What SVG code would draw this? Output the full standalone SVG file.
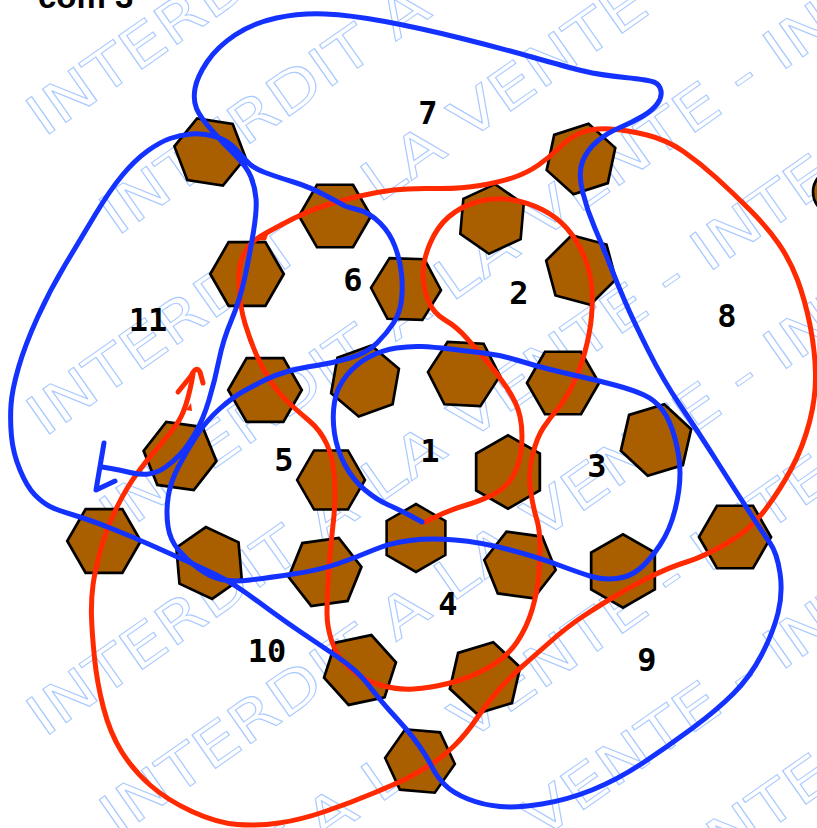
<svg xmlns="http://www.w3.org/2000/svg" xmlns:xlink="http://www.w3.org/1999/xlink" width="817" height="828" viewBox="0 0 817 828">
<style>
.wm{font-family:"DejaVu Sans",sans-serif;font-size:56px;fill:none;stroke:#a9c9ff;stroke-width:1}
.hx{fill:#a95f00;stroke:#000;stroke-width:2.6;stroke-linejoin:miter}
.lb{font-family:"DejaVu Sans Mono",monospace;font-weight:bold;font-size:32px;fill:#000;text-anchor:middle}
.red{fill:none;stroke:#ff2a00;stroke-width:5;stroke-linecap:round;stroke-linejoin:round}
.blue{fill:none;stroke:#1432ff;stroke-width:5;stroke-linecap:round;stroke-linejoin:round}
</style>
<defs>
<polygon id="hex" points="35,0 17.5,30.31 -17.5,30.31 -35,0 -17.5,-30.31 17.5,-30.31"/>
</defs>
<rect width="817" height="828" fill="#fff"/>
<g id="watermark" transform="rotate(-35)">
<text class="wm" transform="translate(-43,138) scale(1.22,1)">INTERDIT A LA VENTE - INTERDIT A LA VENTE - </text>
<text class="wm" transform="translate(-40,261) scale(1.22,1)">INTERDIT A LA VENTE - INTERDIT A LA VENTE - </text>
<text class="wm" transform="translate(-215,384) scale(1.22,1)">INTERDIT A LA VENTE - INTERDIT A LA VENTE - </text>
<text class="wm" transform="translate(-212,507) scale(1.22,1)">INTERDIT A LA VENTE - INTERDIT A LA VENTE - </text>
<text class="wm" transform="translate(-387,630) scale(1.22,1)">INTERDIT A LA VENTE - INTERDIT A LA VENTE - </text>
<text class="wm" transform="translate(-384,753) scale(1.22,1)">INTERDIT A LA VENTE - INTERDIT A LA VENTE - </text>
<text class="wm" transform="translate(-559,876) scale(1.22,1)">INTERDIT A LA VENTE - INTERDIT A LA VENTE - </text>
<text class="wm" transform="translate(-556,998) scale(1.22,1)">INTERDIT A LA VENTE - INTERDIT A LA VENTE - </text>
<text class="wm" transform="translate(-731,1121) scale(1.22,1)">INTERDIT A LA VENTE - INTERDIT A LA VENTE - </text>
</g>
<text x="38" y="8" font-family="Liberation Sans, sans-serif" font-weight="bold" font-size="33" fill="#000">com 3</text>
<g id="hexes">
<g id="h1"><use xlink:href="#hex" class="hx" transform="translate(210,152) rotate(9) scale(1.03)"/></g>
<g id="h2"><use xlink:href="#hex" class="hx" transform="translate(335,216) scale(1.03)"/></g>
<g id="h3"><use xlink:href="#hex" class="hx" transform="translate(247,274) scale(1.05)"/></g>
<g id="h4"><use xlink:href="#hex" class="hx" transform="translate(406,289) rotate(2)"/></g>
<g id="h5"><use xlink:href="#hex" class="hx" transform="translate(492,219) rotate(-25)"/></g>
<g id="h6"><use xlink:href="#hex" class="hx" transform="translate(581,159) rotate(-18) scale(1.03)"/></g>
<g id="h7"><use xlink:href="#hex" class="hx" transform="translate(581,270) rotate(15) scale(1.03)"/></g>
<g id="h8"><use xlink:href="#hex" class="hx" transform="translate(365,381) rotate(-20) scale(1.03)"/></g>
<g id="h9"><use xlink:href="#hex" class="hx" transform="translate(464,374) rotate(3) scale(1.03)"/></g>
<g id="h10"><use xlink:href="#hex" class="hx" transform="translate(563,383) scale(1.03)"/></g>
<g id="h11"><use xlink:href="#hex" class="hx" transform="translate(265,390) scale(1.05)"/></g>
<g id="h12"><use xlink:href="#hex" class="hx" transform="translate(656,440) rotate(-17) scale(1.05)"/></g>
<g id="h13"><use xlink:href="#hex" class="hx" transform="translate(508,472) rotate(30) scale(1.05)"/></g>
<g id="h14"><use xlink:href="#hex" class="hx" transform="translate(180,456) rotate(8) scale(1.05)"/></g>
<g id="h15"><use xlink:href="#hex" class="hx" transform="translate(331,480) scale(0.97)"/></g>
<g id="h16"><use xlink:href="#hex" class="hx" transform="translate(416,538) rotate(30) scale(0.97)"/></g>
<g id="h17"><use xlink:href="#hex" class="hx" transform="translate(520,565) rotate(8) scale(1.03)"/></g>
<g id="h18"><use xlink:href="#hex" class="hx" transform="translate(623,571) rotate(30) scale(1.05)"/></g>
<g id="h19"><use xlink:href="#hex" class="hx" transform="translate(735,537) scale(1.03)"/></g>
<g id="h20"><use xlink:href="#hex" class="hx" transform="translate(104,541) scale(1.05)"/></g>
<g id="h21"><use xlink:href="#hex" class="hx" transform="translate(209,563) rotate(25) scale(1.03)"/></g>
<g id="h22"><use xlink:href="#hex" class="hx" transform="translate(325,572) rotate(-8) scale(1.05)"/></g>
<g id="h23"><use xlink:href="#hex" class="hx" transform="translate(360,670) rotate(-12) scale(1.05)"/></g>
<g id="h24"><use xlink:href="#hex" class="hx" transform="translate(485,678) rotate(-17) scale(1.05)"/></g>
<g id="h25"><use xlink:href="#hex" class="hx" transform="translate(420,761) rotate(5)"/></g>
<g id="h26"><circle cx="836" cy="192" r="23" class="hx"/></g>
</g>
<g id="connectors">
<path id="red-loop" class="red" d="M425,522 L437.5,516 Q450,510 466.5,505 Q483,500 495,493.5 Q507,487 513.5,475 Q520,463 521.5,446.5 Q523,430 520,416.5 Q517,403 507,388 Q497,373 487,361.5 Q477,350 467,338.5 Q457,327 445,320 Q433,313 428,300 Q423,287 423,273.5 Q423,260 430,243.5 Q437,227 448.5,217 Q460,207 476.5,202 Q493,197 510,199.5 Q527,202 542,209.5 Q557,217 567,228.5 Q577,240 583.5,255 Q590,270 591.5,285 Q593,300 591.5,316.5 Q590,333 585,351.5 Q580,370 572.5,385 Q565,400 557.5,409 Q550,418 543.5,427.5 Q537,437 532.5,455 Q528,473 530.5,490 Q533,507 536.5,518.5 Q540,530 540,546.5 Q540,563 538.5,578 Q537,593 532,610 Q527,627 517,642 Q507,657 488.5,667.5 Q470,678 450,683 Q430,688 413.5,689 Q397,690 380,685 Q363,680 350,668.5 Q337,657 332,642 Q327,627 327,613.5 Q327,600 328.5,575 Q330,550 333,525 Q336,500 334.5,478.5 Q333,457 326.5,443.5 Q320,430 310,421.5 Q300,413 290,404 Q280,395 271.5,382.5 Q263,370 256.5,355 Q250,340 245,323.5 Q240,307 239,287 Q238,267 242.5,257 Q247,247 252,242.5 Q257,238 267,232.5 Q277,227 293.5,218.5 Q310,210 326.5,205 Q343,200 360,196 Q377,192 393.5,190 Q410,188 435,188.5 Q460,189 480,185.5 Q500,182 513.5,177.5 Q527,173 538.5,165 Q550,157 560,147 Q570,137 581.5,132.5 Q593,128 610,129 Q627,130 647,135 Q667,140 683.5,151.5 Q700,163 716.5,178 Q733,193 750,210 Q767,227 778.5,243.5 Q790,260 797.5,280 Q805,300 810,325 Q815,350 815.5,373.5 Q816,397 809.5,422 Q803,447 791.5,468.5 Q780,490 765,510 Q750,530 726.5,543.5 Q703,557 686.5,562 Q670,567 650,577 Q630,587 613.5,597 Q597,607 582,617 Q567,627 550,642 Q533,657 521.5,667 Q510,677 498.5,690 Q487,703 477,718 Q467,733 455,745 Q443,757 430,765 Q417,773 408.5,777.5 Q400,782 375,792.5 Q350,803 325,811.5 Q300,820 279,823 Q258,826 237.5,824.5 Q217,823 192,811.5 Q167,800 150,785 Q133,770 121.5,751.5 Q110,733 103.5,708 Q97,683 94.5,658 Q92,633 91.5,616.5 Q91,600 93,585 Q95,570 101,548.5 Q107,527 117,507 Q127,487 137,473.5 Q147,460 157,448.5 Q167,437 173.5,428.5 Q180,420 183,412.5 Q186,405 188,397.5 Q190,390 191.5,382.5 L193,374"/>
<path id="red-head" class="red" d="M178,392 L191,376 Q196,365 200,372 L203,383"/>
<path id="red-notch1" fill="#ff2a00" d="M256,241 L269,232 L266,240 Z"/>
<path id="red-notch2" fill="#ff2a00" d="M186,410 L191,403 L192,411 Z"/>
<path id="blue-c" class="blue" d="M348,207 L359,210 Q370,213 380,223 Q390,233 395,246.5 Q400,260 401.5,273.5 Q403,287 401.5,300 Q400,313 393.5,323 Q387,333 377,343 Q367,353 350,358 Q333,363 316.5,365.5 Q300,368 287.5,371.5 Q275,375 265,380 Q255,385 244,391 Q233,397 220,408.5 Q207,420 197,435 Q187,450 178.5,466.5 Q170,483 168,498 Q166,513 168,526.5 Q170,540 178.5,550 Q187,560 198.5,568.5 Q210,577 221.5,579.5 Q233,582 250,580 Q267,578 293.5,574 Q320,570 338.5,563.5 Q357,557 373.5,550 Q390,543 410,540.5 Q430,538 455,540 Q480,542 508.5,549.5 Q537,557 558.5,565 Q580,573 591.5,576.5 Q603,580 616.5,578.5 Q630,577 640,568.5 Q650,560 660,545 Q670,530 675,510 Q680,490 680,473.5 Q680,457 675,438.5 Q670,420 662.5,410 Q655,400 644,395 Q633,390 616.5,385.5 Q600,381 580,376.5 Q560,372 546.5,368.5 Q533,365 516.5,360 Q500,355 483.5,353 Q467,351 450,349 Q433,347 421.5,346.5 Q410,346 396.5,348 Q383,350 370,356.5 Q357,363 347,375 Q337,387 334.5,402 Q332,417 334.5,433.5 Q337,450 345,465 Q353,480 365,490 Q377,500 388.5,505 Q400,510 411,516 L422,522"/>
<path id="blue-b" class="blue" d="M345,206 L327.5,196.5 Q310,187 293.5,182 Q277,177 265,172.5 Q253,168 248,162.5 Q243,157 235,148.5 Q227,140 215,136.5 Q203,133 191.5,134 Q180,135 170,138.5 Q160,142 147.5,151 Q135,160 122.5,175 Q110,190 95,215 Q80,240 65,265 Q50,290 37.5,317.5 Q25,345 18.5,367.5 Q12,390 11,405 Q10,420 11.5,436.5 Q13,453 20,470 Q27,487 35,495 Q43,503 50,506.5 Q57,510 73.5,515 Q90,520 111.5,528.5 Q133,537 153,546 Q173,555 186.5,561 Q200,567 216.5,575 Q233,583 258,601.5 Q283,620 300,631.5 Q317,643 337,656.5 Q357,670 368.5,685 Q380,700 390,711 Q400,722 406.5,729.5 Q413,737 420,747 Q427,757 432,767 Q437,777 445,785 Q453,793 468,799 Q483,805 500,806.5 Q517,808 542,804 Q567,800 592,790 Q617,780 642,763.5 Q667,747 692,728.5 Q717,710 733.5,693.5 Q750,677 761.5,655 Q773,633 778,613 Q783,593 780,573 Q777,553 770,543 Q763,533 750,513 Q737,493 717,461.5 Q697,430 680,405 Q663,380 648,350 Q633,320 625,301.5 Q617,283 610,265 Q603,247 595,228.5 Q587,210 582.5,191.5 Q578,173 582.5,161.5 Q587,150 597,141.5 Q607,133 620,127.5 Q633,122 643,116 Q653,110 657.5,103.5 Q662,97 661,91 Q660,85 655,82.5 Q650,80 625,77.5 Q600,75 583.5,71 Q567,67 533.5,57.5 Q500,48 460,38 Q420,28 385,21.5 Q350,15 325,14 Q300,13 276.5,18 Q253,23 235,35 Q217,47 207,62 Q197,77 195,88.5 Q193,100 196.5,108.5 Q200,117 211.5,130 Q223,143 235,155 Q247,167 251,177 Q255,187 256,198.5 Q257,210 253.5,231.5 Q250,253 245,276.5 Q240,300 231.5,320 Q223,340 219,360 Q215,380 209,400 Q203,420 195,433.5 Q187,447 180,454.5 Q173,462 165,467.5 Q157,473 148.5,474 Q140,475 130,472.5 Q120,470 111,468.5 L102,467"/>
<polyline id="blue-head" class="blue" points="104,443 96,490 115,481"/>
</g>
<g id="labels">
<text class="lb" x="428" y="124">7</text>
<text class="lb" x="353" y="291">6</text>
<text class="lb" x="519" y="304">2</text>
<text class="lb" x="148" y="331">11</text>
<text class="lb" x="727" y="327">8</text>
<text class="lb" x="430" y="462">1</text>
<text class="lb" x="284" y="471">5</text>
<text class="lb" x="597" y="477">3</text>
<text class="lb" x="448" y="615">4</text>
<text class="lb" x="267" y="662">10</text>
<text class="lb" x="647" y="671">9</text>
</g>
</svg>
